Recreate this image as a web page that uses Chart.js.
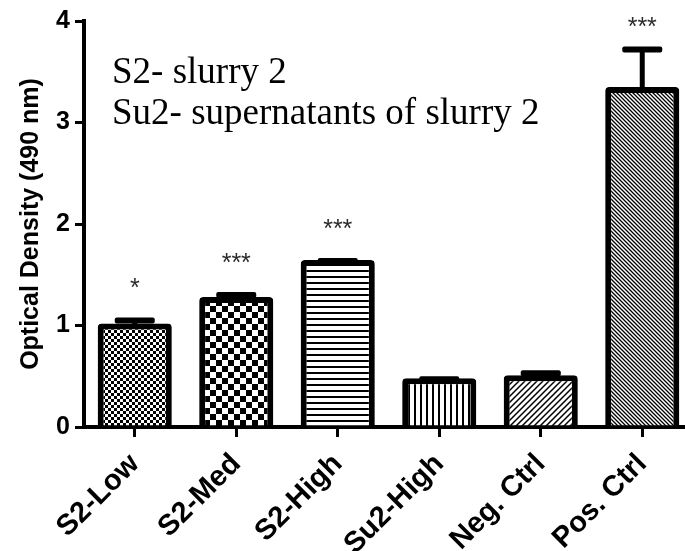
<!DOCTYPE html>
<html>
<head>
<meta charset="utf-8">
<script src="https://cdn.jsdelivr.net/npm/chart.js@4.4.1/dist/chart.umd.min.js"></script>
<style>
  html, body { margin: 0; padding: 0; background: #fff; overflow: hidden; }
  #wrap { position: relative; width: 693px; height: 551px; }
  #note { position: absolute; left: 112px; top: 50px; font-family: "Liberation Serif", "Times New Roman", serif;
          font-size: 37px; line-height: 41px; color: #000; white-space: nowrap; }
</style>
</head>
<body>
<div id="wrap">
  <canvas id="od-chart" width="693" height="551"></canvas>
  <div id="note">S2- slurry 2<br>Su2- supernatants of slurry 2</div>
</div>
<script>
var groups = ['S2-Low', 'S2-Med', 'S2-High', 'Su2-High', 'Neg. Ctrl', 'Pos. Ctrl'];
var meanOD = [1.02, 1.28, 1.645, 0.48, 0.51, 3.35];
var semOD = [0.06, 0.05, 0.02, 0.02, 0.05, 0.40];
var stars = ['*', '***', '***', '', '', '***'];
var yTicks = [0, 1, 2, 3, 4];

var ctx = document.getElementById('od-chart').getContext('2d');

function makePattern(size, draw) {
  var c = document.createElement('canvas');
  c.width = size; c.height = size;
  var g = c.getContext('2d');
  g.fillStyle = '#fff';
  g.fillRect(0, 0, size, size);
  g.fillStyle = '#000';
  g.strokeStyle = '#000';
  draw(g, size);
  return ctx.createPattern(c, 'repeat');
}

var fineChecks = makePattern(6, function(g) { g.fillRect(0, 0, 3, 3); g.fillRect(3, 3, 3, 3); });
var bigChecks = makePattern(12, function(g) { g.fillRect(0, 0, 6, 6); g.fillRect(6, 6, 6, 6); });
var hLines = makePattern(6, function(g, s) { g.fillRect(0, 0, s, 2); });
var vLines = makePattern(6, function(g, s) { g.fillRect(0, 0, 2, s); });
var fwdHatch = makePattern(6, function(g, s) {
  g.lineWidth = 1.5;
  g.beginPath();
  g.moveTo(-1, s + 1); g.lineTo(s + 1, -1);
  g.moveTo(-1, 1); g.lineTo(1, -1);
  g.moveTo(s - 1, s + 1); g.lineTo(s + 1, s - 1);
  g.stroke();
});
var backHatch = makePattern(4, function(g, s) {
  g.lineWidth = 1.3;
  g.beginPath();
  g.moveTo(-1, -1); g.lineTo(s + 1, s + 1);
  g.moveTo(s - 1, -1); g.lineTo(s + 1, 1);
  g.moveTo(-1, s - 1); g.lineTo(1, s + 1);
  g.stroke();
});

// error bars (mean + SEM) and significance stars on top of each bar
var errorBars = {
  id: 'errorBars',
  afterDatasetsDraw: function(chart) {
    var c = chart.ctx, y = chart.scales.y;
    var bars = chart.getDatasetMeta(0).data;
    c.save();
    c.fillStyle = '#000';
    c.strokeStyle = '#000';
    bars.forEach(function(bar, i) {
      var top = y.getPixelForValue(meanOD[i]);
      var cap = y.getPixelForValue(meanOD[i] + semOD[i]);
      c.lineWidth = 5;
      c.beginPath();
      c.moveTo(bar.x, top + 3);
      c.lineTo(bar.x, cap + 3);
      c.stroke();
      c.beginPath();
      c.roundRect(bar.x - 20, cap, 40, 6, 2);
      c.fill();
      if (stars[i]) {
        c.font = '25px "Liberation Sans", Arial, sans-serif';
        c.fillStyle = '#2b2b2b';
        c.textAlign = 'center';
        c.textBaseline = 'middle';
        c.fillText(stars[i], bar.x, Math.max(cap - 28, 28));
        c.fillStyle = '#000';
      }
    });
    c.restore();
  }
};

new Chart(ctx, {
  type: 'bar',
  data: {
    labels: groups,
    datasets: [{
      data: meanOD,
      backgroundColor: [fineChecks, bigChecks, hLines, vLines, fwdHatch, backHatch],
      borderColor: '#000',
      borderWidth: 6,
      borderRadius: 4,
      borderSkipped: 'start',
      categoryPercentage: 1,
      barPercentage: 0.73
    }]
  },
  options: {
    responsive: false,
    animation: false,
    events: [],
    layout: { padding: { top: 21, right: 0, left: 0, bottom: 0 } },
    plugins: { legend: { display: false }, tooltip: { enabled: false } },
    scales: {
      x: {
        grid: { display: true, drawOnChartArea: false, offset: false, tickLength: 10, lineWidth: 3, color: '#000' },
        border: { display: true, width: 4, color: '#000' },
        ticks: {
          color: '#000',
          font: { family: '"Liberation Sans", Arial, sans-serif', size: 29, weight: 'bold' },
          minRotation: 45, maxRotation: 45, padding: 10
        },
        afterFit: function(s) { s.height = 124; }
      },
      y: {
        min: 0, max: 4,
        afterBuildTicks: function(s) { s.ticks = yTicks.map(function(v) { return { value: v }; }); },
        grid: { display: true, drawOnChartArea: false, tickLength: 9, lineWidth: 3, color: '#000' },
        border: { display: true, width: 4, color: '#000' },
        ticks: {
          color: '#000', padding: 5,
          font: { family: '"Liberation Sans", Arial, sans-serif', size: 25, weight: 'bold' }
        },
        title: {
          display: true,
          text: 'Optical Density (490 nm)',
          color: '#000',
          font: { family: '"Liberation Sans", Arial, sans-serif', size: 25, weight: 'bold' },
          padding: { top: 16, bottom: 0 }
        },
        afterFit: function(s) { s.width = 84; }
      }
    }
  },
  plugins: [errorBars]
});
</script>
</body>
</html>
